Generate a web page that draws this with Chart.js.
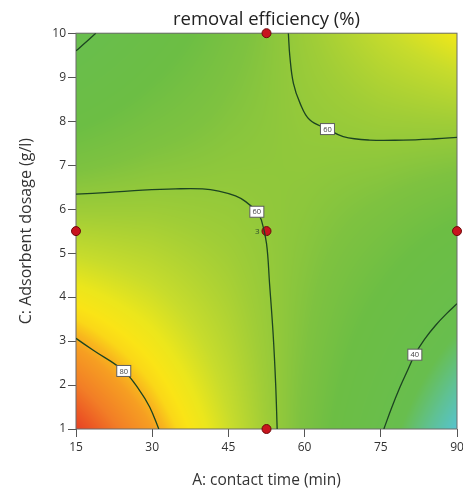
<!DOCTYPE html>
<html><head><meta charset="utf-8">
<script src="https://cdn.jsdelivr.net/npm/chart.js@4.4.0/dist/chart.umd.min.js"></script>
<style>html,body{margin:0;padding:0;background:#fff;overflow:hidden}#wrap{width:463px;height:495px;position:relative}</style>
</head><body><div id="wrap"><canvas id="c" width="463" height="495"></canvas></div>
<script>
// ---- data ----
const timeTicks = [15, 30, 45, 60, 75, 90];          // A: contact time (min)
const dosageTicks = [1, 2, 3, 4, 5, 6, 7, 8, 9, 10];   // C: adsorbent dosage (g/l)
// removal efficiency (%) at each (dosage row, time column)
const efficiencyGrid = [
  [92.6, 81.1, 68.6, 55.2, 40.8, 25.4],
  [86.4, 77.1, 67.0, 55.8, 43.7, 30.6],
  [80.1, 73.2, 65.3, 56.5, 46.6, 35.9],
  [73.9, 69.3, 63.7, 57.1, 49.6, 41.1],
  [67.7, 65.4, 62.1, 57.8, 52.6, 46.4],
  [61.5, 61.5, 60.4, 58.5, 55.5, 51.6],
  [55.3, 57.6, 58.8, 59.2, 58.5, 56.9],
  [49.1, 53.7, 57.2, 59.9, 61.5, 62.2],
  [43.0, 49.8, 55.7, 60.6, 64.5, 67.5],
  [36.8, 45.9, 54.1, 61.3, 67.5, 72.8]
];
// contour lines [time, dosage]
const contour60Lower = [[15,6.34],[21.5,6.38],[28.1,6.43],[34.6,6.46],[39.9,6.46],[43.1,6.41],[46.4,6.30],[48.4,6.17],[50.6,5.94],[51.5,5.75],[52.5,5.22],[53.1,4.31],[53.8,3.17],[54.3,2.03],[54.6,1.0]];
const contour60Upper = [[56.8,10],[57.1,9.47],[57.8,8.86],[59.1,8.41],[61.0,8.03],[64.5,7.82],[67.6,7.65],[72.8,7.57],[79.4,7.57],[85.9,7.60],[90,7.63]];
const contour80 = [[15,3.06],[18.4,2.79],[24.4,2.32],[27.5,1.88],[29.5,1.50],[31.3,1.0]];
const contour40Right = [[75.6,1.0],[77.1,1.47],[78.7,1.93],[80.1,2.29],[81.7,2.69],[83.6,3.04],[85.8,3.36],[88.0,3.63],[90,3.85]];
const contour40Left = [[15,9.60],[17.1,9.81],[18.9,10]];
const contourLabelValues = [60, 60, 80, 40];
const contourLabelTime = [50.6, 64.5, 24.4, 81.7];
const contourLabelDosage = [5.94, 7.82, 2.32, 2.69];
// design points
const designTime = [52.5, 15, 52.5, 90, 52.5];
const designDosage = [10, 5.5, 5.5, 5.5, 1];
const designReplicates = [1, 1, 3, 1, 1];

// ---- style ----
const FONT = '"Open Sans", "Noto Sans", sans-serif';
const colorStops = [
  [25,[85,196,212]],[31,[95,193,150]],[37,[104,190,78]],[50,[108,190,68]],
  [56,[126,194,64]],[62,[160,205,55]],[68,[200,220,44]],[72,[235,230,28]],
  [75,[250,228,22]],[77,[250,215,24]],[79,[248,182,30]],[81,[246,158,34]],
  [86,[242,126,38]],[90,[236,88,36]],[93,[230,62,36]]
];
function colorFor(v){
  if (v <= colorStops[0][0]) return colorStops[0][1];
  for (let k = 1; k < colorStops.length; k++){
    if (v <= colorStops[k][0]){
      const [v0,c0] = colorStops[k-1], [v1,c1] = colorStops[k];
      const t = (v - v0)/(v1 - v0);
      return [c0[0]+(c1[0]-c0[0])*t, c0[1]+(c1[1]-c0[1])*t, c0[2]+(c1[2]-c0[2])*t];
    }
  }
  return colorStops[colorStops.length-1][1];
}
function sampleEfficiency(A, C){
  const nx = timeTicks.length, ny = dosageTicks.length;
  let fx = (A - timeTicks[0]) / (timeTicks[nx-1] - timeTicks[0]) * (nx-1);
  let fy = (C - dosageTicks[0]) / (dosageTicks[ny-1] - dosageTicks[0]) * (ny-1);
  fx = Math.max(0, Math.min(nx - 1.0001, fx));
  fy = Math.max(0, Math.min(ny - 1.0001, fy));
  const i = Math.floor(fx), j = Math.floor(fy), tx = fx - i, ty = fy - j;
  const g = efficiencyGrid;
  return (g[j][i]*(1-tx) + g[j][i+1]*tx)*(1-ty) + (g[j+1][i]*(1-tx) + g[j+1][i+1]*tx)*ty;
}

const heatmapPlugin = {
  id: 'heatmap',
  beforeDatasetsDraw(chart){
    const {ctx, chartArea: ca, scales: {x, y}} = chart;
    const w = Math.ceil(ca.right - ca.left), h = Math.ceil(ca.bottom - ca.top);
    const off = document.createElement('canvas'); off.width = w; off.height = h;
    const octx = off.getContext('2d');
    const img = octx.createImageData(w, h);
    for (let j = 0; j < h; j++){
      const C = y.getValueForPixel(ca.top + j + 0.5);
      for (let i = 0; i < w; i++){
        const A = x.getValueForPixel(ca.left + i + 0.5);
        const col = colorFor(sampleEfficiency(A, C));
        const p = (j*w + i)*4;
        img.data[p] = col[0]; img.data[p+1] = col[1]; img.data[p+2] = col[2]; img.data[p+3] = 255;
      }
    }
    octx.putImageData(img, 0, 0);
    ctx.save();
    ctx.drawImage(off, ca.left, ca.top);
    ctx.strokeStyle = '#6b6b6b'; ctx.lineWidth = 1;
    ctx.strokeRect(ca.left, ca.top, ca.right - ca.left, ca.bottom - ca.top);
    ctx.restore();
  },
  afterDatasetsDraw(chart){
    const {ctx, scales: {x, y}} = chart;
    ctx.save();
    ctx.font = '7.5px ' + FONT;
    ctx.textAlign = 'center'; ctx.textBaseline = 'middle';
    contourLabelValues.forEach((v, k) => {
      const px = x.getPixelForValue(contourLabelTime[k]);
      const py = y.getPixelForValue(contourLabelDosage[k]);
      ctx.fillStyle = '#ffffff';
      ctx.fillRect(px - 7, py - 5.5, 14, 11);
      ctx.strokeStyle = '#5e5e5e'; ctx.lineWidth = 1;
      ctx.strokeRect(px - 7, py - 5.5, 14, 11);
      ctx.fillStyle = '#444';
      ctx.fillText(String(v), px, py + 0.5);
    });
    ctx.font = '8px ' + FONT;
    ctx.fillStyle = '#2d4a2d';
    ctx.textAlign = 'right';
    designReplicates.forEach((r, k) => {
      if (r > 1){
        ctx.fillText(String(r), x.getPixelForValue(designTime[k]) - 7, y.getPixelForValue(designDosage[k]) + 1);
      }
    });
    ctx.restore();
  }
};

const toPts = arr => arr.map(p => ({x: p[0], y: p[1]}));
const contourStyle = {type: 'scatter', showLine: true, borderColor: '#1c4421', borderWidth: 1.3, pointRadius: 0, tension: 0.4, fill: false};

new Chart(document.getElementById('c'), {
  type: 'scatter',
  data: {
    datasets: [
      Object.assign({label: '60', data: toPts(contour60Lower)}, contourStyle),
      Object.assign({label: '60', data: toPts(contour60Upper)}, contourStyle),
      Object.assign({label: '80', data: toPts(contour80)}, contourStyle),
      Object.assign({label: '40', data: toPts(contour40Right)}, contourStyle),
      Object.assign({label: '40', data: toPts(contour40Left)}, contourStyle),
      {label: 'design points', data: designTime.map((t, k) => ({x: t, y: designDosage[k]})),
       pointRadius: 4.5, pointBackgroundColor: '#c8141e', pointBorderColor: '#6e0a0a', pointBorderWidth: 1, clip: false, showLine: false}
    ]
  },
  options: {
    responsive: false, animation: false, devicePixelRatio: 1,
    layout: {padding: {left: 0, right: 6, top: 0, bottom: 0}},
    plugins: {
      legend: {display: false}, tooltip: {enabled: false},
      title: {display: true, text: 'removal efficiency (%)', fullSize: false, color: '#222',
              font: {family: FONT, size: 18.5, weight: 'normal'}, padding: {top: 9, bottom: 2}}
    },
    scales: {
      x: {
        type: 'linear', min: 15, max: 90,
        afterBuildTicks: s => { s.ticks = timeTicks.map(v => ({value: v})); },
        afterFit: s => { s.height = 66; s.paddingRight = 0; s.paddingLeft = 0; },
        ticks: {color: '#333', font: {family: FONT, size: 12}, padding: 3, maxRotation: 0},
        grid: {drawOnChartArea: false, drawTicks: true, tickLength: 8, color: '#555'},
        border: {display: false},
        title: {display: true, text: 'A: contact time (min)', color: '#333', font: {family: FONT, size: 15.5}, padding: {top: 0, bottom: 5}}
      },
      y: {
        type: 'linear', min: 1, max: 10,
        afterBuildTicks: s => { s.ticks = dosageTicks.map(v => ({value: v})); },
        afterFit: s => { s.width = 76; },
        ticks: {color: '#333', font: {family: FONT, size: 12}, padding: 2},
        grid: {drawOnChartArea: false, drawTicks: true, tickLength: 8, color: '#555'},
        border: {display: false},
        title: {display: true, text: 'C: Adsorbent dosage (g/l)', color: '#333', font: {family: FONT, size: 16}, padding: {top: 17, bottom: 0}}
      }
    }
  },
  plugins: [heatmapPlugin]
});
</script></body></html>
